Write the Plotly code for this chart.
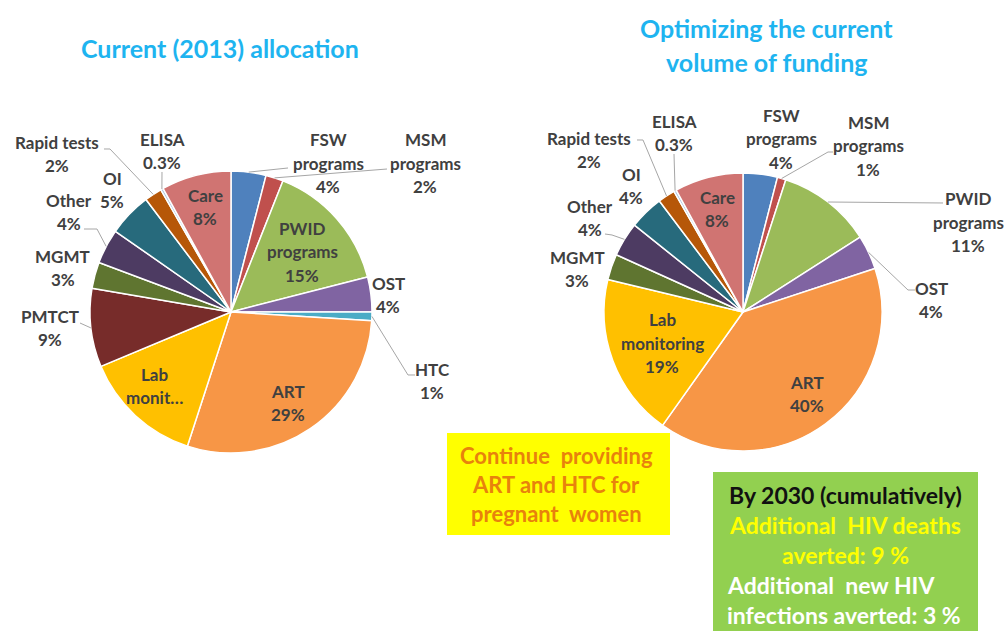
import math
import plotly.graph_objects as go

W, H = 1005, 631

# ---------------- data ----------------
left_labels = ["FSW programs", "MSM programs", "PWID programs", "OST", "HTC", "ART",
               "Lab monitoring", "PMTCT", "MGMT", "Other", "OI", "Rapid tests", "ELISA", "Care"]
left_values = [4, 2, 15, 4, 1, 29, 13.7, 9, 3, 4, 5, 2, 0.3, 8]
left_pct = ["4%", "2%", "15%", "4%", "1%", "29%", "", "9%", "3%", "4%", "5%", "2%", "0.3%", "8%"]

right_labels = ["FSW programs", "MSM programs", "PWID programs", "OST", "ART",
                "Lab monitoring", "MGMT", "Other", "OI", "Rapid tests", "ELISA", "Care"]
right_values = [4, 1, 11, 4, 40, 19, 3, 4, 4, 2, 0.3, 8]
right_pct = ["4%", "1%", "11%", "4%", "40%", "19%", "3%", "4%", "4%", "2%", "0.3%", "8%"]

colors = {
    "FSW programs": "#4F81BD", "MSM programs": "#C0504D", "PWID programs": "#9BBB59",
    "OST": "#8064A2", "HTC": "#4BACC6", "ART": "#F79646", "Lab monitoring": "#FFC000",
    "PMTCT": "#772C2A", "MGMT": "#5F7530", "Other": "#4D3B62", "OI": "#276A7C",
    "Rapid tests": "#B65708", "ELISA": "#A9C4E2", "Care": "#D07472",
}

# ---------------- layout constants (pixels) ----------------
LC, LR = (231, 312), 141
RC, RR = (743, 312), 139
FONT = "Lato"
LABEL_COL = "#404040"
LABEL_SIZE = 17


def px(x, y):
    return x / W, 1 - y / H


def domain(c, r):
    return dict(x=[(c[0] - r) / W, (c[0] + r) / W], y=[1 - (c[1] + r) / H, 1 - (c[1] - r) / H])


def edge_point(values, idx, c, r):
    tot = sum(values)
    start = sum(values[:idx])
    mid = (start + values[idx] / 2) / tot * 2 * math.pi
    return c[0] + r * math.sin(mid), c[1] - r * math.cos(mid)


fig = go.Figure()
for labels, values, c, r in [(left_labels, left_values, LC, LR), (right_labels, right_values, RC, RR)]:
    fig.add_trace(go.Pie(
        labels=labels, values=values, sort=False, direction="clockwise", rotation=0,
        marker=dict(colors=[colors[l] for l in labels], line=dict(color="white", width=1.5)),
        textinfo="none", domain=domain(c, r), showlegend=False, hoverinfo="label+percent",
    ))

annotations = []
shapes = []


def add_lines(lines, cx, cy, spacing, size, color, anchor="center", bold=True):
    n = len(lines)
    for i, t in enumerate(lines):
        y = cy + (i - (n - 1) / 2) * spacing
        x0, y0 = px(cx, y)
        annotations.append(dict(
            x=x0, y=y0, xref="paper", yref="paper", showarrow=False,
            text=f"<b>{t}</b>" if bold else t, xanchor=anchor, yanchor="middle",
            font=dict(family=FONT, size=size, color=color)))


display = {
    "FSW programs": ["FSW", "programs"], "MSM programs": ["MSM", "programs"],
    "PWID programs": ["PWID", "programs"], "Lab monitoring": ["Lab", "monitoring"],
}

# label centre positions and leader-line waypoints (after the computed slice point)
left_pos = {
    "FSW programs": ((328, 163), [(288, 168)]),
    "MSM programs": ((425, 163), [(387, 169)]),
    "PWID programs": ((302, 252), None),
    "OST": ((388, 295), None),
    "HTC": ((432, 381), [(408, 375), (415, 375)]),
    "ART": ((288, 403), None),
    "Lab monitoring": ((154, 386), None),
    "PMTCT": ((50, 328), [(80, 323)]),
    "MGMT": ((63, 268), None),
    "Other": ((69, 212), [(97, 229), (84, 229)]),
    "OI": ((112, 190), None),
    "Rapid tests": ((57, 154), [(110, 149), (104, 149)]),
    "ELISA": ((162, 151), [(162, 172)]),
    "Care": ((205, 207), None),
}
right_pos = {
    "FSW programs": ((781, 139), None),
    "MSM programs": ((868, 146), [(828, 152), (833, 152)]),
    "PWID programs": ((968, 222), [(943, 203)]),
    "OST": ((931, 300), [(908, 290), (915, 290)]),
    "ART": ((807, 394), None),
    "Lab monitoring": ((662, 343), None),
    "MGMT": ((577, 269), None),
    "Other": ((590, 218), [(612, 235), (605, 234)]),
    "OI": ((631, 186), None),
    "Rapid tests": ((589, 150), [(643, 140), (637, 140)]),
    "ELISA": ((674, 133), [(674, 154)]),
    "Care": ((717, 209), None),
}

for labels, values, pcts, pos, c, r, lab_override in [
        (left_labels, left_values, left_pct, left_pos, LC, LR, {"Lab monitoring": ["Lab", "monit…"]}),
        (right_labels, right_values, right_pct, right_pos, RC, RR, {})]:
    for i, lab in enumerate(labels):
        (cx, cy), way = pos[lab]
        lines = list(lab_override.get(lab, display.get(lab, [lab])))
        if pcts[i]:
            lines.append(pcts[i])
        add_lines(lines, cx, cy, 23.5, LABEL_SIZE, LABEL_COL)
        if way:
            pts = [edge_point(values, i, c, r)] + way
            d = "M " + " L ".join(f"{px(x, y)[0]:.5f},{px(x, y)[1]:.5f}" for x, y in pts)
            shapes.append(dict(type="path", path=d, xref="paper", yref="paper",
                               line=dict(color="#A6A6A6", width=1)))

# titles
TITLE_COL = "#1EB4F0"
add_lines(["Current (2013) allocation"], 220, 48, 34, 25, TITLE_COL)
add_lines(["Optimizing the current", "volume of funding"], 766, 45, 34, 25, TITLE_COL)

# yellow box
x0, y1 = px(447, 433)
x1, y0 = px(670, 535)
shapes.append(dict(type="rect", xref="paper", yref="paper", x0=x0, x1=x1, y0=y0, y1=y1,
                   fillcolor="#FFFF00", line=dict(width=0), layer="above"))
add_lines(["Continue  providing", "ART and HTC for", "pregnant  women"], 556, 484, 29, 22, "#E8820C")

# green box
x0, y1 = px(713, 472)
x1, y0 = px(978, 631)
shapes.append(dict(type="rect", xref="paper", yref="paper", x0=x0, x1=x1, y0=y0, y1=y1,
                   fillcolor="#92D050", line=dict(width=0), layer="above"))
add_lines(["By 2030 (cumulatively)"], 845, 495, 30, 23, "#111111")
add_lines(["Additional  HIV deaths", "averted: 9 %"], 845, 540, 30, 23, "#FFFF00")
add_lines(["Additional  new HIV", "infections averted: 3 %"], 725, 600, 30, 23, "#FFFFFF", anchor="left")

fig.update_layout(
    width=W, height=H, margin=dict(l=0, r=0, t=0, b=0),
    paper_bgcolor="white", plot_bgcolor="white",
    annotations=annotations, shapes=shapes, font=dict(family=FONT),
)
fig.write_html("out.html", config={"displayModeBar": False},
               post_script="document.body.style.margin='0px';")
